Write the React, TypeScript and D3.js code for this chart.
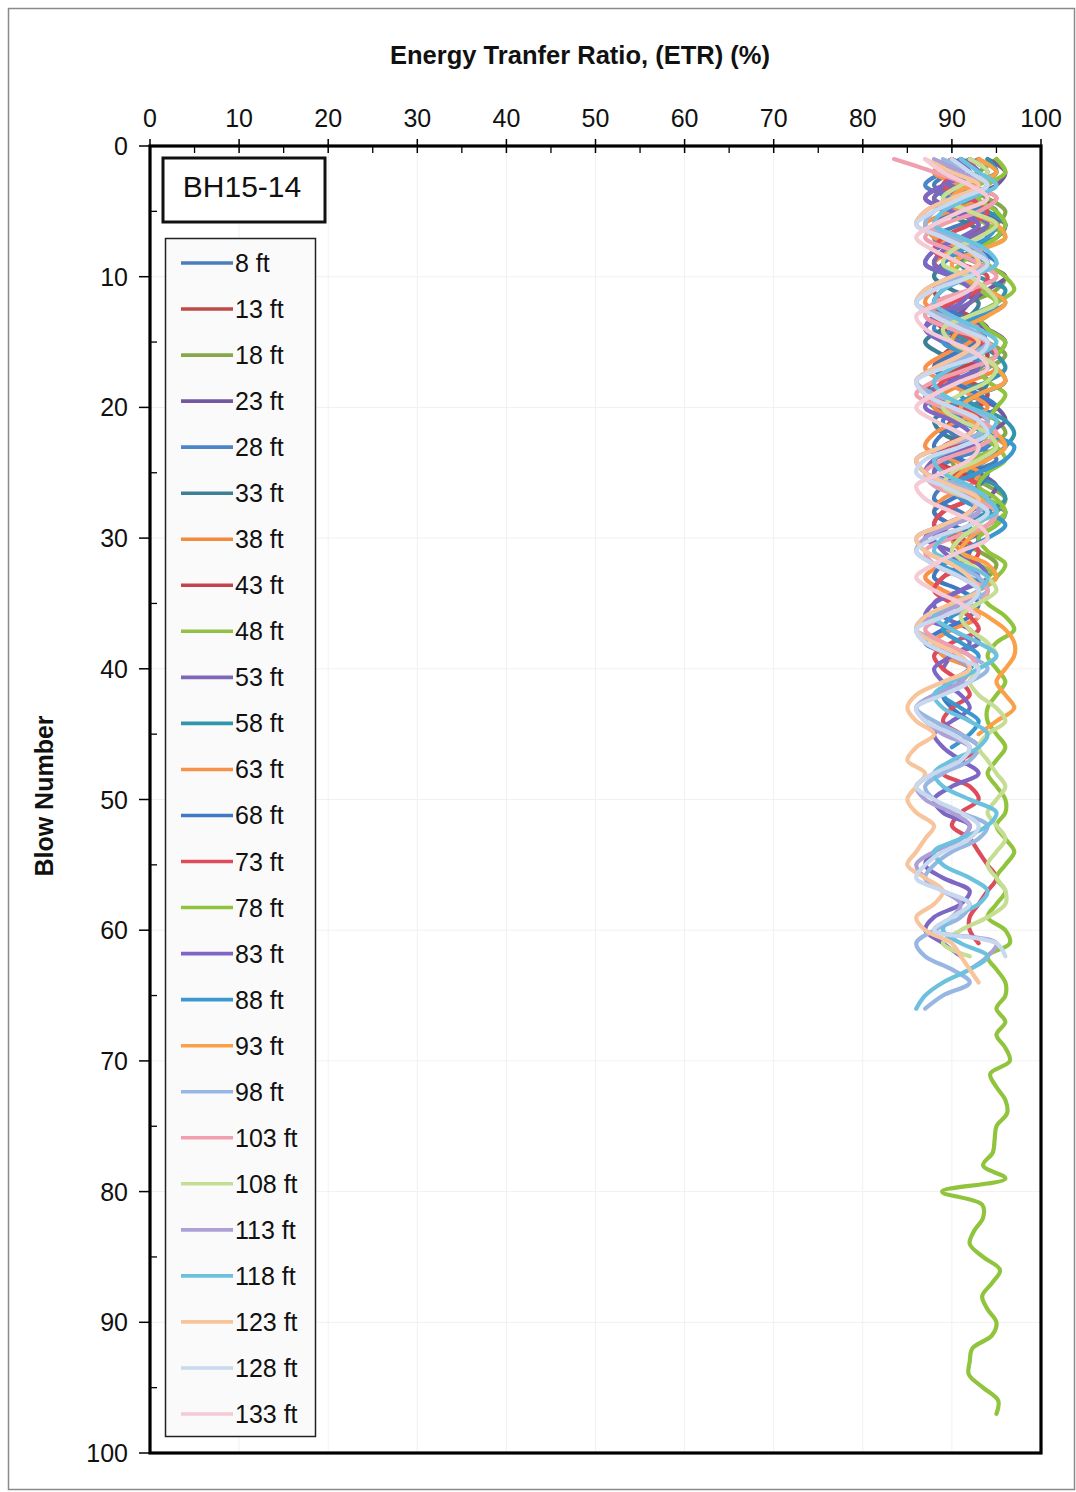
import { useMemo } from 'react'
import * as d3 from 'd3'

const W = 1076
const H = 1492
const PLOT = { l: 150, r: 1041, t: 146, b: 1453 }
const FONT = 'Liberation Sans, Arial, sans-serif'

const X_TICKS = [0, 10, 20, 30, 40, 50, 60, 70, 80, 90, 100]
const Y_TICKS = [0, 10, 20, 30, 40, 50, 60, 70, 80, 90, 100]
const MINOR_TICKS = [5, 15, 25, 35, 45, 55, 65, 75, 85, 95]

const DEPTHS = ['8 ft', '13 ft', '18 ft', '23 ft', '28 ft', '33 ft', '38 ft', '43 ft', '48 ft', '53 ft', '58 ft', '63 ft', '68 ft', '73 ft', '78 ft', '83 ft', '88 ft', '93 ft', '98 ft', '103 ft', '108 ft', '113 ft', '118 ft', '123 ft', '128 ft', '133 ft']

const COLORS = ['#4a7ebb', '#be4b48', '#86a84a', '#7559a0', '#4a86c8', '#3d7f95', '#f48a3c', '#c2434e', '#93c047', '#7f67b8', '#3394ad', '#f8914a', '#3d79c4', '#de4b5a', '#8fc43c', '#7d66c4', '#3b98cf', '#f9a048', '#97b7e2', '#ef9fae', '#c6de94', '#aca0d6', '#6cc2de', '#f8c49c', '#c7d8ef', '#f5cad4']

// ETR (%) per blow, starting at blow 1
const ETR_8 = [93, 90, 88, 92, 95, 91, 88, 90, 94, 92, 89, 88, 91, 94, 93, 90, 88, 91, 94, 92, 89, 90, 93, 95, 92, 89, 88, 91, 93, 92]
const ETR_13 = [90, 88, 92, 95, 91, 88, 90, 93, 94, 90, 88, 89, 92, 94, 91, 89, 88, 92, 94, 93, 90, 89]
const ETR_18 = [95, 93, 91, 94, 96, 95, 92, 90, 93, 96, 95, 92, 90, 91, 94, 96, 94, 91, 89, 92, 95, 96, 93, 90, 91, 94, 96, 95, 92, 90, 93, 95, 94]
const ETR_23 = [94, 96, 95, 92, 93, 96, 95, 91, 93, 96, 94, 92, 91, 94, 96, 95, 93, 91, 92, 95, 96, 94, 92, 91, 93, 95, 94, 92]
const ETR_28 = [92, 89, 87, 90, 93, 94, 91, 88, 87, 90, 93, 92, 89, 88, 91, 94, 93, 90, 87, 88, 92, 95, 94, 90, 88, 89, 92, 96, 95, 92]
const ETR_33 = [91, 93, 90, 88, 89, 92, 94, 91, 89, 88, 90, 93, 92, 89, 87, 89, 92, 94, 93, 90, 88, 89, 92, 93, 91, 90]
const ETR_38 = [92, 94, 91, 89, 92, 95, 93, 90, 88, 91, 94, 95, 92, 89, 90, 93, 95, 92, 89, 88, 91, 94, 96, 93, 90, 89, 92, 94, 92, 90, 91, 93]
const ETR_43 = [90, 92, 89, 87, 90, 93, 92, 89, 88, 91, 93, 90, 88, 89, 92, 94, 91, 88, 87, 90, 93, 92, 89, 88, 91, 93, 92, 89, 88, 90, 92, 91, 89, 88, 90, 92]
const ETR_48 = [93, 95, 93, 90, 91, 94, 96, 93, 91, 90, 93, 95, 94, 91, 90, 92, 95, 96, 93, 90, 91, 94, 95, 92, 90, 91, 94, 96, 94, 91, 90, 93, 95, 93]
const ETR_53 = [91, 93, 90, 88, 91, 94, 92, 89, 88, 91, 93, 92, 89, 87, 90, 93, 94, 91, 88, 89, 92, 94, 92, 89, 88, 91, 93, 92, 89, 87, 90, 93, 94, 91, 88, 89, 92, 93, 90, 89]
const ETR_58 = [94, 95, 92, 91, 94, 96, 95, 92, 91, 93, 96, 95, 92, 90, 92, 95, 96, 94, 91, 93, 96, 97, 96, 94, 92, 95, 96, 94, 92, 93]
const ETR_63 = [90, 88, 91, 93, 90, 87, 88, 92, 94, 91, 88, 87, 90, 93, 92, 89, 87, 89, 92, 94, 91, 88, 87, 90, 93, 92, 89, 88, 90, 93, 92, 89, 87, 89, 92, 93, 90, 88, 89, 92, 91, 89]
const ETR_68 = [91, 89, 92, 94, 91, 88, 90, 93, 95, 92, 89, 88, 91, 94, 93, 90, 88, 90, 93, 95, 92, 89, 88, 91, 94, 93, 90, 88, 90, 93, 92, 89, 88, 91, 93, 92, 89, 87, 90, 92, 91, 89, 90, 92]
const ETR_73 = [93, 91, 89, 92, 94, 92, 89, 88, 91, 94, 93, 90, 88, 90, 93, 95, 92, 89, 88, 91, 94, 93, 90, 88, 90, 93, 92, 89, 88, 91, 93, 92, 89, 88, 90, 92, 93, 90, 88, 89, 91, 92, 90, 89, 91, 93, 91, 89, 92, 93, 91, 90, 92, 93, 94, 95, 94, 93, 92, 92, 93]
const ETR_78 = [95, 96, 94, 93, 95, 96, 95, 93, 94, 96, 97, 95, 93, 94, 96, 95, 93, 94, 96, 95, 94, 93, 95, 96, 94, 93, 95, 96, 95, 93, 94, 96, 95, 93, 94, 96, 97, 95, 94, 95, 96, 95, 94, 94, 95, 96, 95, 94, 95, 96, 96, 95, 96, 97, 96, 95, 96, 95, 94, 96, 96.5, 94, 95, 96, 96, 95, 96, 95, 96, 96.5, 94.3, 95, 96, 96.2, 95, 94.8, 94.6, 93.5, 96, 88.9, 93.4, 93.5, 92.5, 92, 93.5, 95.4, 94.5, 93.4, 94, 95, 94.5, 92.3, 92, 91.9, 93.5, 95.2, 95]
const ETR_83 = [90, 92, 89, 87, 90, 93, 91, 88, 87, 90, 92, 91, 88, 87, 89, 92, 93, 90, 88, 87, 90, 92, 91, 88, 87, 89, 92, 93, 90, 88, 89, 91, 93, 91, 88, 87, 90, 92, 90, 88, 89, 91, 92, 90, 88, 89, 91, 93, 90, 88, 89, 92, 91, 88, 87, 89, 92, 91, 88, 87, 89, 91]
const ETR_88 = [92, 94, 91, 89, 92, 95, 94, 91, 89, 91, 94, 96, 93, 90, 89, 92, 95, 96, 93, 90, 91, 94, 97, 96, 93, 90, 91, 94, 96, 94, 91, 89, 92, 94, 93, 90, 89, 91, 93, 92, 90, 89, 91, 93, 92, 90]
const ETR_93 = [93, 95, 92, 90, 92, 95, 96, 93, 90, 91, 94, 96, 94, 91, 90, 93, 95, 96, 93, 91, 92, 95, 96, 94, 91, 90, 93, 95, 94, 92, 91, 94, 95, 93, 92, 94, 96, 97, 97, 96, 95, 96, 97, 95, 93]
const ETR_98 = [89, 92, 94, 91, 88, 87, 90, 93, 94, 91, 88, 86, 89, 92, 94, 92, 88, 86, 88, 92, 94, 93, 89, 86, 87, 91, 94, 93, 89, 86, 87, 90, 93, 94, 91, 87, 86, 89, 92, 94, 92, 88, 86, 88, 91, 93, 92, 89, 87, 88, 91, 94, 93, 90, 88, 87, 89, 92, 91, 88, 86, 87, 90, 92, 89, 87]
const ETR_103 = [83.5, 88, 92, 95, 93, 89, 87, 90, 93, 95, 92, 88, 87, 90, 94, 95, 92, 88, 86, 89, 93, 95, 93, 89, 87, 88, 92, 95, 94, 90, 87, 88, 91, 94, 93, 89, 87, 89, 92, 93]
const ETR_108 = [92, 94, 91, 89, 92, 95, 93, 90, 89, 92, 94, 95, 92, 89, 90, 93, 95, 94, 91, 89, 91, 94, 95, 93, 90, 89, 92, 94, 93, 91, 90, 92, 94, 95, 93, 91, 92, 94, 95, 93, 92, 93, 95, 96, 94, 93, 94, 95, 96, 95, 94, 95, 96, 95, 94, 95, 96, 96, 94, 91, 89, 92]
const ETR_113 = [88, 91, 93, 90, 87, 86, 89, 92, 93, 90, 87, 86, 88, 91, 93, 91, 88, 86, 87, 90, 93, 92, 89, 86, 87, 90, 92, 93, 90, 87, 86, 88, 91, 93, 91, 88, 86, 87, 90, 92, 91, 88, 86, 87, 89, 92, 91, 88, 86, 87, 90, 92, 91, 88, 86, 87, 89, 91, 90, 88, 95, 94, 92]
const ETR_118 = [91, 93, 95, 92, 89, 88, 91, 94, 95, 92, 89, 88, 90, 93, 95, 93, 90, 88, 89, 92, 95, 94, 91, 88, 89, 92, 94, 95, 92, 89, 88, 91, 94, 93, 90, 88, 90, 93, 95, 93, 90, 88, 89, 92, 94, 93, 90, 88, 89, 92, 95, 94, 91, 88, 89, 92, 94, 93, 90, 89, 91, 94, 92, 89, 87, 86]
const ETR_123 = [87, 90, 93, 90, 87, 86, 89, 92, 93, 90, 87, 86, 88, 91, 93, 91, 88, 86, 87, 90, 93, 92, 89, 86, 87, 90, 93, 92, 89, 86, 87, 90, 92, 93, 90, 87, 86, 88, 91, 92, 89, 86, 85, 86, 88, 86, 85, 87, 86, 85, 86, 88, 87, 86, 85, 87, 89, 88, 86, 87, 90, 91, 92, 93]
const ETR_128 = [90, 92, 94, 91, 88, 86, 89, 92, 94, 92, 88, 86, 88, 91, 94, 93, 89, 86, 87, 90, 93, 94, 91, 87, 86, 89, 92, 94, 92, 88, 86, 88, 91, 93, 92, 89, 86, 87, 90, 93, 92, 89, 86, 87, 90, 92, 91, 88, 86, 88, 91, 93, 92, 89, 87, 86, 89, 92, 90, 88, 95, 96]
const ETR_133 = [87, 89, 92, 94, 91, 88, 86, 88, 91, 93, 92, 89, 86, 87, 90, 93, 94, 91, 88, 86, 88, 91, 93, 92, 89, 86, 87, 90, 93, 94, 91, 88, 86, 88, 91, 93]

const SERIES = [ETR_8, ETR_13, ETR_18, ETR_23, ETR_28, ETR_33, ETR_38, ETR_43, ETR_48, ETR_53, ETR_58, ETR_63, ETR_68, ETR_73, ETR_78, ETR_83, ETR_88, ETR_93, ETR_98, ETR_103, ETR_108, ETR_113, ETR_118, ETR_123, ETR_128, ETR_133]

export default function App() {
  const x = useMemo(() => d3.scaleLinear().domain([0, 100]).range([PLOT.l, PLOT.r]), [])
  const y = useMemo(() => d3.scaleLinear().domain([0, 100]).range([PLOT.t, PLOT.b]), [])
  const line = d3.line<number>().x((v) => x(v)).y((_, i) => y(i + 1)).curve(d3.curveCatmullRom.alpha(0.5))

  const legendTop = 263
  const legendStep = 46.04

  return (
    <div style={{ position: 'absolute', left: 0, top: 0 }}>
      <svg width={W} height={H} style={{ display: 'block', background: '#fff' }} fontFamily={FONT}>
        <rect x={8.5} y={8.5} width={1066} height={1481} fill="#fff" stroke="#8a8a8a" strokeWidth={1.5} />

        <text x={580} y={64} textAnchor="middle" fontSize={25} fontWeight="bold" fill="#111" textLength={380} lengthAdjust="spacingAndGlyphs">Energy Tranfer Ratio, (ETR) (%)</text>
        <text transform="translate(53,796) rotate(-90)" textAnchor="middle" fontSize={25} fontWeight="bold" fill="#111">Blow Number</text>

        {/* faint gridlines */}
        {X_TICKS.slice(1, -1).map((t) => (
          <line key={'gx' + t} x1={x(t)} x2={x(t)} y1={PLOT.t} y2={PLOT.b} stroke="#f1f1f1" />
        ))}
        {Y_TICKS.slice(1, -1).map((t) => (
          <line key={'gy' + t} x1={PLOT.l} x2={PLOT.r} y1={y(t)} y2={y(t)} stroke="#f1f1f1" />
        ))}

        {/* series */}
        {SERIES.map((s, i) => (
          <path key={DEPTHS[i]} d={line(s) ?? ''} fill="none" stroke={COLORS[i]} strokeWidth={4.2} strokeLinejoin="round" strokeLinecap="round" />
        ))}

        {/* top axis */}
        {X_TICKS.map((t) => (
          <g key={'xt' + t}>
            <line x1={x(t)} x2={x(t)} y1={139} y2={153} stroke="#000" strokeWidth={1.5} />
            <text x={x(t)} y={127} textAnchor="middle" fontSize={25} fill="#111">{t}</text>
          </g>
        ))}
        {MINOR_TICKS.map((t) => (
          <line key={'xm' + t} x1={x(t)} x2={x(t)} y1={PLOT.t} y2={PLOT.t + 7} stroke="#000" strokeWidth={1.3} />
        ))}

        {/* left axis */}
        {Y_TICKS.map((t) => (
          <g key={'yt' + t}>
            <line x1={139} x2={PLOT.l} y1={y(t)} y2={y(t)} stroke="#000" strokeWidth={1.5} />
            <text x={128} y={y(t) + 9} textAnchor="end" fontSize={25} fill="#111">{t}</text>
          </g>
        ))}
        {MINOR_TICKS.map((t) => (
          <line key={'ym' + t} x1={PLOT.l} x2={PLOT.l + 7} y1={y(t)} y2={y(t)} stroke="#000" strokeWidth={1.3} />
        ))}

        <rect x={PLOT.l} y={PLOT.t} width={PLOT.r - PLOT.l} height={PLOT.b - PLOT.t} fill="none" stroke="#000" strokeWidth={3.2} />

        {/* borehole label */}
        <rect x={163} y={158} width={162} height={64} fill="#fff" stroke="#111" strokeWidth={3} />
        <text x={242} y={197} textAnchor="middle" fontSize={30} fill="#111">BH15-14</text>

        {/* legend */}
        <rect x={165.5} y={238.5} width={150} height={1198} fill="#fafafa" stroke="#222" strokeWidth={1.5} />
        {DEPTHS.map((d, i) => {
          const ly = legendTop + i * legendStep
          return (
            <g key={'lg' + d}>
              <line x1={181} x2={233} y1={ly} y2={ly} stroke={COLORS[i]} strokeWidth={3.6} />
              <text x={235} y={ly + 9} fontSize={25} fill="#111">{d}</text>
            </g>
          )
        })}
      </svg>
    </div>
  )
}
